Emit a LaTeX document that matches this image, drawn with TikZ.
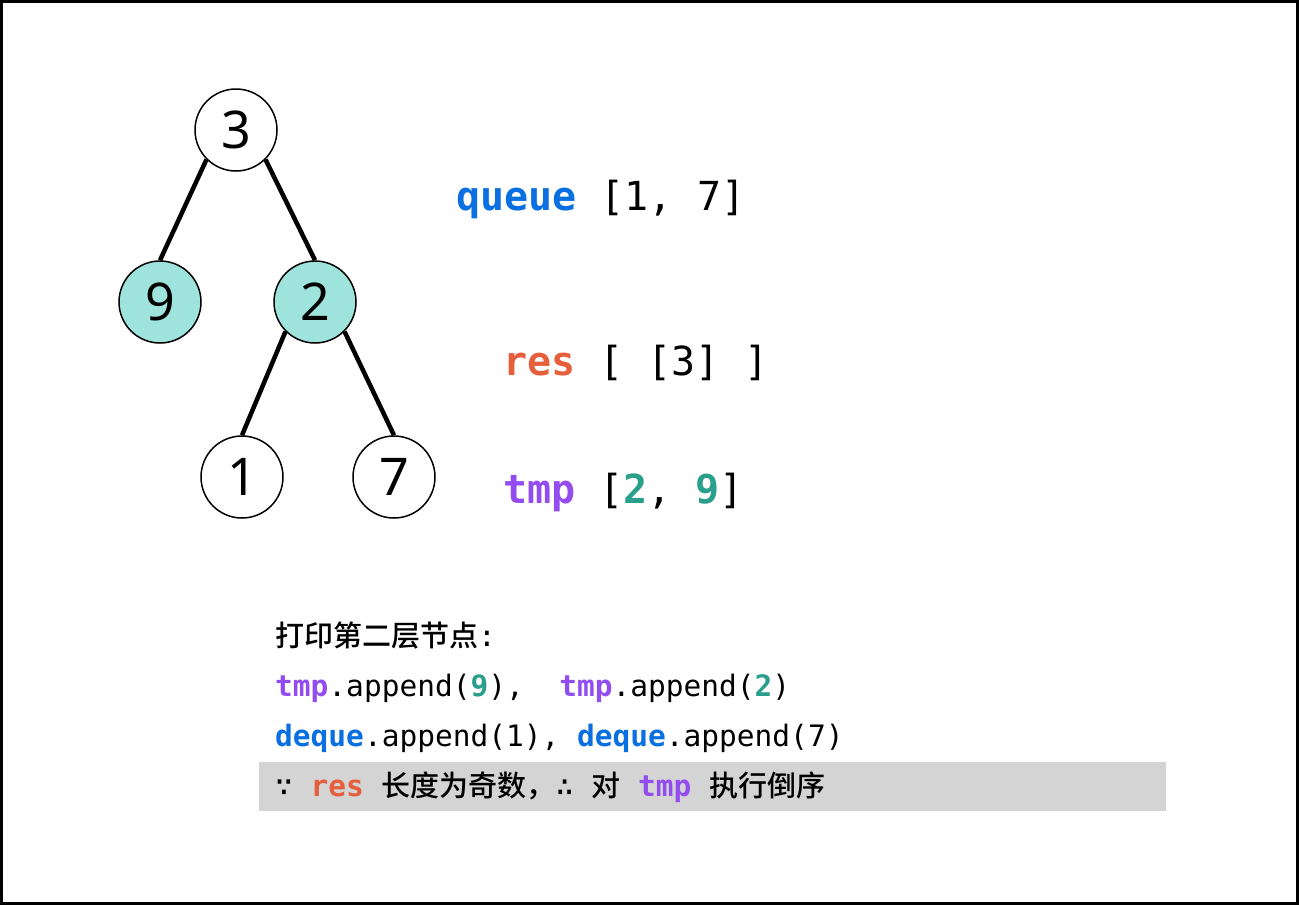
\documentclass[tikz,border=0pt]{standalone}
\usepackage{fontspec}
\setmainfont{Noto Sans}
\setmonofont{DejaVu Sans Mono}
\newfontfamily\cjk{Noto Sans CJK SC}[UprightFont={* Medium}]
\usepackage{xcolor}
\definecolor{kwblue}{RGB}{10,112,226}
\definecolor{kwred}{RGB}{230,95,60}
\definecolor{kwpurple}{RGB}{146,76,240}
\definecolor{numteal}{RGB}{42,160,140}
\definecolor{visited}{RGB}{158,228,220}
\definecolor{notegray}{RGB}{212,212,212}
\newcommand{\kwd}[2]{\textcolor{#1}{\bfseries #2}}
\newcommand{\zh}[1]{{\cjk\fontsize{29}{31}\selectfont #1}}

\begin{document}
\begin{tikzpicture}[
  x=1pt, y=-1pt,
  tnode/.style={circle, draw, line width=1.5pt, minimum size=82pt, inner sep=0pt,
                font=\fontsize{52}{52}\selectfont},
  seen/.style={tnode, fill=visited},
  edge/.style={line width=4.5pt},
  biglbl/.style={anchor=base west, inner sep=0pt,
                 font=\ttfamily\fontsize{40}{42}\selectfont},
  codeln/.style={anchor=base west, inner sep=0pt,
                 font=\ttfamily\fontsize{29.5}{32}\selectfont}
]
\useasboundingbox (0,0) rectangle (1299,905);
\draw[line width=3pt] (1.5,1.5) rectangle (1297.5,903.5);

% tree
\node[tnode] (n3) at (236,130) {3};
\node[seen]  (n9) at (160,302) {9};
\node[seen]  (n2) at (315,302) {2};
\node[tnode] (n1) at (242,477) {1};
\node[tnode] (n7) at (394,477) {7};
\draw[edge] (n3.south west) -- (n9.north);
\draw[edge] (n3.south east) -- (n2.north);
\draw[edge] (n2.south west) -- (n1.north);
\draw[edge] (n2.south east) -- (n7.north);

% state
\node[biglbl] (queue) at (456,210) {\kwd{kwblue}{queue} [1, 7]};
\node[biglbl] (res)   at (503,375) {\kwd{kwred}{res} [ [3] ]};
\node[biglbl] (tmp)   at (503,503) {\kwd{kwpurple}{tmp} [\kwd{numteal}{2}, \kwd{numteal}{9}]};

% steps
\fill[notegray] (259,762) rectangle (1166,811);
\node[codeln] (step0) at (275,646) {\zh{打印第二层节点}:};
\node[codeln] (step1) at (275,696) {\kwd{kwpurple}{tmp}.append(\kwd{numteal}{9}),~~\kwd{kwpurple}{tmp}.append(\kwd{numteal}{2})};
\node[codeln] (step2) at (275,746) {\kwd{kwblue}{deque}.append(1), \kwd{kwblue}{deque}.append(7)};
\node[codeln] (step3) at (275,796) {∵ \kwd{kwred}{res} \zh{长度为奇数，}∴ \zh{对} \kwd{kwpurple}{tmp} \zh{执行倒序}};
\end{tikzpicture}
\end{document}
